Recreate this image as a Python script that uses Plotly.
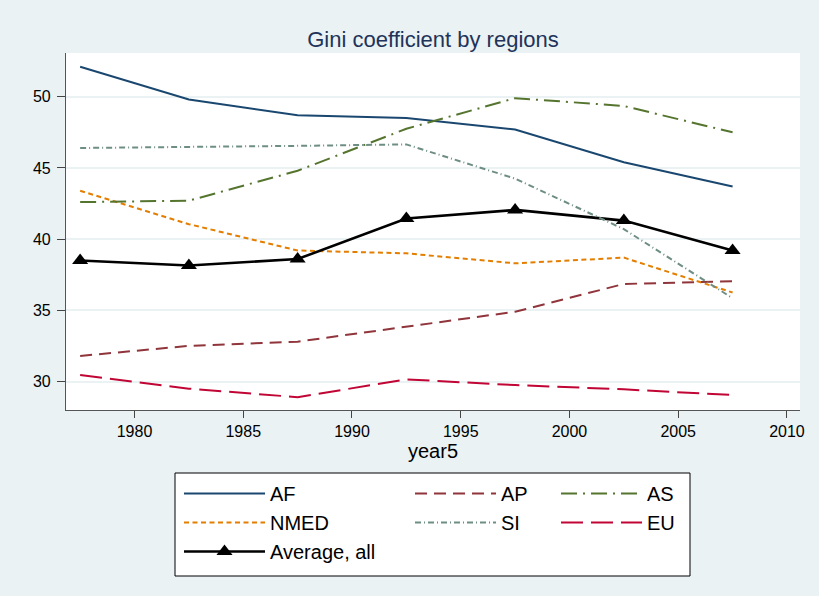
import plotly.graph_objects as go

years = [1977.5, 1982.5, 1987.5, 1992.5, 1997.5, 2002.5, 2007.5]
af = [52.1, 49.8, 48.7, 48.5, 47.7, 45.4, 43.7]
ap = [31.8, 32.5, 32.8, 33.85, 34.9, 36.85, 37.05]
as_ = [42.6, 42.7, 44.8, 47.75, 49.9, 49.35, 47.5]
nmed = [43.4, 41.05, 39.2, 39.0, 38.3, 38.7, 36.25]
si = [46.4, 46.45, 46.55, 46.65, 44.25, 40.7, 35.85]
eu = [30.45, 29.5, 28.9, 30.15, 29.75, 29.45, 29.05]
avg = [38.5, 38.15, 38.6, 41.45, 42.05, 41.3, 39.2]

x_ticks = [1980, 1985, 1990, 1995, 2000, 2005, 2010]
y_ticks = [30, 35, 40, 45, 50]

FONT = "Liberation Sans, Arial, sans-serif"
BG = "#eaf2f3"

fig = go.Figure()

def add(name, y, color, dash, legend, width=2.0, marker=None):
    if marker:
        kw = dict(mode="lines+markers",
                  marker=dict(symbol="triangle-up", size=14, color=color))
    else:
        kw = dict(mode="lines")
    fig.add_trace(go.Scatter(x=years, y=y, name=name, legend=legend,
                             line=dict(color=color, width=width, dash=dash), **kw))

add("AF", af, "#1a476f", "solid", "legend")
add("NMED", nmed, "#e37e00", "5px,3.5px", "legend")
add("Average, all", avg, "#000000", "solid", "legend", width=2.6, marker=True)
add("AP", ap, "#90353b", "12px,7px", "legend2")
add("SI", si, "#6e8e84", "6px,3px,1px,3px", "legend2")
add("AS", as_, "#55752f", "16px,6px,2px,6px", "legend3")
add("EU", eu, "#c10534", "22px,8px", "legend3")

W, H = 819, 596
L, R, T, B = 66, 19, 53, 186
pw, ph = W - L - R, H - T - B

def px2paper(x, y):
    return (x - L) / pw, (H - B - y) / ph

bx0, by0 = px2paper(175, 576)
bx1, by1 = px2paper(690, 473)
fig.add_shape(type="rect", xref="paper", yref="paper", x0=bx0, y0=by0, x1=bx1, y1=by1,
              line=dict(color="#000000", width=1), fillcolor="#ffffff", layer="above")

leg_common = dict(xref="container", yref="container", xanchor="left", yanchor="top",
                  bgcolor="rgba(0,0,0,0)", borderwidth=0, itemwidth=81,
                  font=dict(family=FONT, size=20, color="#000000"),
                  orientation="v", tracegroupgap=0, itemclick=False)

fig.update_layout(
    width=W, height=H,
    margin=dict(l=L, r=R, t=T, b=B, pad=0, autoexpand=False),
    paper_bgcolor=BG, plot_bgcolor="#ffffff",
    font=dict(family=FONT, color="#000000"),
    title=dict(text="Gini coefficient by regions", x=(L + pw / 2) / W, xanchor="center",
               y=1 - 39 / H, yanchor="middle", yref="container",
               font=dict(family=FONT, size=22, color="#22335a")),
    showlegend=True,
    legend=dict(x=179 / W, y=1 - 474 / H, **leg_common),
    legend2=dict(x=410 / W, y=1 - 474 / H, **leg_common),
    legend3=dict(x=556 / W, y=1 - 474 / H, **leg_common),
    xaxis=dict(range=[1976.85, 2010.6], tickmode="array", tickvals=x_ticks,
               ticks="outside", ticklen=7, tickcolor="#444444", tickwidth=1,
               showline=True, linecolor="#555555", linewidth=1.2, mirror=False,
               showgrid=False, zeroline=False, automargin=False,
               tickfont=dict(family=FONT, size=16, color="#000000"),
               title=dict(text="year5", standoff=3,
                          font=dict(family=FONT, size=20, color="#000000"))),
    yaxis=dict(range=[28.0, 53.07], tickmode="array", tickvals=y_ticks,
               ticks="outside", ticklen=8, tickcolor="#444444", tickwidth=1,
               ticklabelstandoff=3,
               showline=True, linecolor="#555555", linewidth=1.2, automargin=False,
               showgrid=True, gridcolor=BG, gridwidth=1.5, zeroline=False,
               tickfont=dict(family=FONT, size=16, color="#000000")),
)

fig.write_html("out.html", config={"displayModeBar": False},
               post_script="document.body.style.margin='0';")
